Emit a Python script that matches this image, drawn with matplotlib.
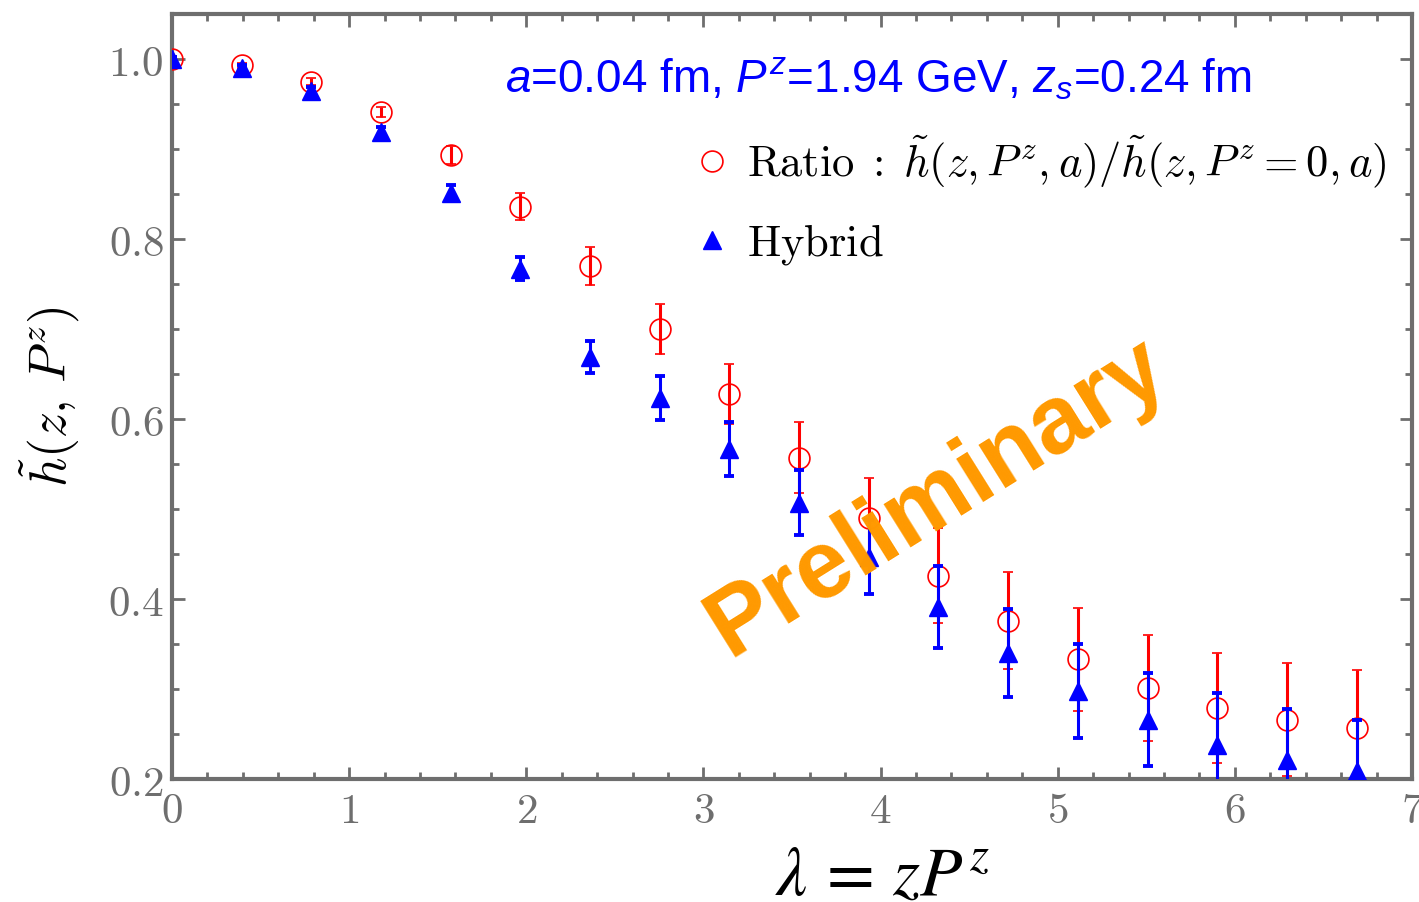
import matplotlib
matplotlib.use("Agg")
import matplotlib.pyplot as plt
from matplotlib.lines import Line2D
from matplotlib.ticker import MultipleLocator, FixedLocator

plt.rcParams['mathtext.fontset'] = 'cm'
plt.rcParams['mathtext.rm'] = 'Liberation Sans'
plt.rcParams['mathtext.it'] = 'Liberation Sans:italic'

# ---- data ----
lam = [0.0, 0.393, 0.787, 1.180, 1.573, 1.967, 2.360, 2.753, 3.147, 3.540,
       3.933, 4.327, 4.720, 5.113, 5.507, 5.900, 6.293, 6.687]
ratio = [1.000, 0.993, 0.975, 0.941, 0.893, 0.836, 0.770, 0.700, 0.628, 0.557,
         0.490, 0.426, 0.376, 0.333, 0.301, 0.279, 0.266, 0.257]
ratio_err = [0.002, 0.003, 0.0035, 0.0056, 0.0102, 0.0152, 0.021, 0.0274, 0.033, 0.0394,
             0.045, 0.053, 0.054, 0.057, 0.059, 0.061, 0.063, 0.064]
hybrid = [1.000, 0.990, 0.965, 0.919, 0.851, 0.767, 0.669, 0.623, 0.567, 0.507,
          0.447, 0.391, 0.340, 0.298, 0.266, 0.238, 0.221, 0.209]
hybrid_err = [0.002, 0.003, 0.004, 0.005, 0.009, 0.0128, 0.018, 0.0244, 0.030, 0.036,
              0.041, 0.0456, 0.049, 0.052, 0.052, 0.058, 0.057, 0.057]

xticks = [0, 1, 2, 3, 4, 5, 6, 7]
yticks = [0.2, 0.4, 0.6, 0.8, 1.0]
xtick_labels = [r'$0$', r'$1$', r'$2$', r'$3$', r'$4$', r'$5$', r'$6$', r'$7$']
ytick_labels = [r'$0.2$', r'$0.4$', r'$0.6$', r'$0.8$', r'$1.0$']

label_ratio = r'$\mathrm{Ratio}\;:\;\tilde{h}(z,P^z,a)/\tilde{h}(z,P^z=0,a)$'
label_hybrid = r'$\mathrm{Hybrid}$'
info_text = r'$a$=0.04 fm, $P^z$=1.94 GeV, $z_s$=0.24 fm'

GRAY = '#6e6e6e'

fig = plt.figure(figsize=(14.19, 9.02), dpi=100)
ax = fig.add_axes([172/1419, 123/902, 1240/1419, 765/902])

ax.errorbar(lam, ratio, yerr=ratio_err, fmt='o', color='red', mfc='none', mec='red',
            ms=15, mew=1.2, ecolor='red', elinewidth=2.2, capsize=3.8, capthick=2.8, zorder=3)
ax.errorbar(lam, hybrid, yerr=hybrid_err, fmt='^', color='blue', mfc='blue', mec='blue',
            ms=13.5, ecolor='blue', elinewidth=2.2, capsize=3.8, capthick=2.8, zorder=4)

ax.set_xlim(0, 7)
ax.set_ylim(0.2, 1.05)

for s in ax.spines.values():
    s.set_color(GRAY)
    s.set_linewidth(3)

ax.xaxis.set_major_locator(FixedLocator(xticks))
ax.yaxis.set_major_locator(FixedLocator(yticks))
ax.xaxis.set_minor_locator(MultipleLocator(0.2))
ax.yaxis.set_minor_locator(MultipleLocator(0.05))
ax.set_xticklabels(xtick_labels)
ax.set_yticklabels(ytick_labels)
ax.tick_params(which='both', direction='in', top=True, right=True, color=GRAY, width=2)
ax.tick_params(which='major', length=9, labelsize=31, labelcolor=GRAY)
ax.tick_params(which='minor', length=5)
ax.tick_params(axis='x', pad=8)
ax.tick_params(axis='y', pad=6)

# axis labels
fig.text(50/1419, 1 - 397/902, r'$\tilde{h}(z,\,P^z)$', rotation=90, fontsize=37,
         ha='center', va='center', color='black')
fig.text(882/1419, 7/902, r'$\lambda\,=\,zP^z$', fontsize=50, ha='center', va='baseline',
         color='black', math_fontfamily='stix')

# info text
fig.text(505/1419, 1 - 93/902, info_text, fontsize=33, color='blue',
         family='Liberation Sans', math_fontfamily='custom', ha='left', va='baseline')

# legend
handles = [Line2D([], [], ls='none', marker='o', ms=15, mfc='none', mec='red', mew=1.2),
           Line2D([], [], ls='none', marker='^', ms=13.5, mfc='blue', mec='blue')]
leg = ax.legend(handles, [label_ratio, label_hybrid], loc='upper left',
                bbox_to_anchor=(694/1419, 1 - 133/902), bbox_transform=fig.transFigure,
                frameon=False, handlelength=0.8, handletextpad=0.4,
                labelspacing=0.72, borderpad=0, borderaxespad=0, prop={'size': 32})

# watermark
fig.text(937/1419, 1 - 497/902, 'Preliminary', fontsize=69, fontweight='bold',
         family='Liberation Sans', color='#FF9900', rotation=32,
         ha='center', va='center', rotation_mode='anchor', zorder=10)

fig.savefig('out.png', dpi=100)
